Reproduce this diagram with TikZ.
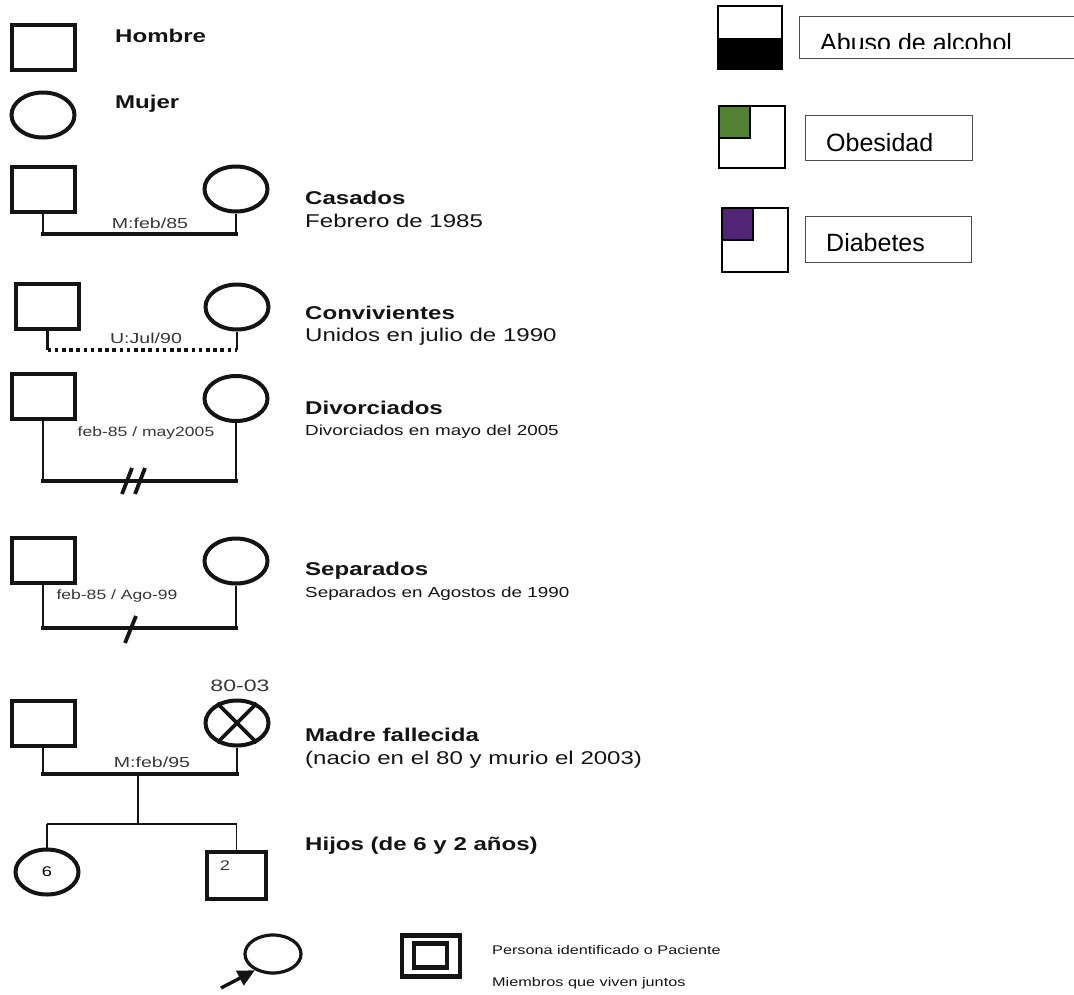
\documentclass[tikz,border=0pt]{standalone}
\usepackage{fontspec}
\setmainfont{Liberation Sans}
\usetikzlibrary{shapes.geometric,arrows.meta}
\definecolor{obgreen}{HTML}{548235}
\definecolor{dbpurple}{HTML}{512476}
\definecolor{ink}{HTML}{141414}
\newcommand{\sx}[1]{\scalebox{1.3}[1]{#1}}
\newcommand{\bigf}{\fontsize{18.5}{20}\selectfont}
\newcommand{\midf}{\fontsize{14.5}{16}\selectfont}
\newcommand{\smf}{\fontsize{13.5}{15}\selectfont}
\newcommand{\mlf}[1]{{\fontsize{14.5}{16}\selectfont\scalebox{1.35}[1]{#1}}}
\newcommand{\legf}{\fontsize{25}{28}\selectfont}
\tikzset{
  male/.style={draw=ink, line width=4pt, minimum width=63pt, minimum height=45pt, inner sep=0pt},
  female/.style={draw=ink, ellipse, line width=4pt, minimum width=63pt, minimum height=45pt, inner sep=0pt},
  vl/.style={draw=ink, line width=2.4pt},
  hl/.style={draw=ink, line width=3.8pt, line cap=rect},
  thinl/.style={draw=ink, line width=1.7pt},
  lbl/.style={anchor=west, inner sep=0pt, text=ink, align=left},
  onl/.style={inner sep=0pt, text=ink!85},
  legbox/.style={draw=black!70, line width=1pt},
}
\begin{document}
\begin{tikzpicture}[x=1pt,y=-1pt]
\useasboundingbox (0,0) rectangle (1074,994);
\fill[white] (0,0) rectangle (1074,994);

% Hombre / Mujer
\node[male] (hm) at (43,47.5) {};
\node[lbl] (thm) at (115,36) {\bigf\bfseries\sx{Hombre}};
\node[female] (mj) at (43,115) {};
\node[lbl] (tmj) at (115,104) {\bigf\bfseries\sx{Mujer}};

% Casados
\node[male] (m1) at (43,189) {};
\node[female] (f1) at (236,189) {};
\coordinate (a1) at (m1.south |- 0,234);
\coordinate (b1) at (f1.south |- 0,234);
\draw[vl] (m1.south) -- (a1);
\draw[vl] (f1.south) -- (b1);
\draw[hl] (a1) -- (b1);
\node[onl] (l1) at (150,223) {\mlf{M:feb/85}};
\node[lbl] (t1) at (305,198) {\bigf\bfseries\sx{Casados}};
\node[lbl] (s1) at (305,221) {\bigf\sx{Febrero de 1985}};

% Convivientes
\node[male] (m2) at (47.5,306) {};
\node[female] (f2) at (237,307) {};
\coordinate (a2) at (m2.south |- 0,350);
\coordinate (b2) at (f2.south |- 0,350);
\draw[vl] (m2.south) -- (a2);
\draw[vl] (f2.south) -- (b2);
\draw[draw=ink, line width=3.8pt, dash pattern=on 3.6pt off 3.6pt] (a2) -- (b2);
\node[onl] (l2) at (146,338.5) {\mlf{U:Jul/90}};
\node[lbl] (t2) at (305,313) {\bigf\bfseries\sx{Convivientes}};
\node[lbl] (s2) at (305,337) {\bigf\sx{Unidos en julio de 1990}};

% Divorciados
\node[male] (m3) at (43,396.5) {};
\node[female] (f3) at (236,398.5) {};
\coordinate (a3) at (m3.south |- 0,481);
\coordinate (b3) at (f3.south |- 0,481);
\draw[vl] (m3.south) -- (a3);
\draw[vl] (f3.south) -- (b3);
\draw[hl] (a3) -- (b3);
\draw[draw=ink, line width=3.8pt] (122,494) -- (132,468);
\draw[draw=ink, line width=3.8pt] (135,494) -- (145,468);
\node[onl] (l3) at (146,433) {\smf\sx{feb-85 / may2005}};
\node[lbl] (t3) at (305,408) {\bigf\bfseries\sx{Divorciados}};
\node[lbl] (s3) at (305,432) {\midf\sx{Divorciados en mayo del 2005}};

% Separados
\node[male] (m4) at (43,560) {};
\node[female] (f4) at (236,561) {};
\coordinate (a4) at (m4.south |- 0,628);
\coordinate (b4) at (f4.south |- 0,628);
\draw[vl] (m4.south) -- (a4);
\draw[vl] (f4.south) -- (b4);
\draw[hl] (a4) -- (b4);
\draw[draw=ink, line width=3.8pt] (125,643) -- (136,616);
\node[onl] (l4) at (117,596) {\smf\sx{feb-85 / Ago-99}};
\node[lbl] (t4) at (305,571) {\bigf\bfseries\sx{Separados}};
\node[lbl] (s4) at (305,594) {\midf\sx{Separados en Agostos de 1990}};

% Madre fallecida
\node[male] (m5) at (43,723) {};
\node[female] (f5) at (237,723) {};
\draw[draw=ink, line width=3.8pt] (f5.45) -- (f5.225);
\draw[draw=ink, line width=3.8pt] (f5.135) -- (f5.315);
\node[onl] (d5) at (240,686) {\fontsize{16.5}{18}\selectfont\scalebox{1.4}[1]{80-03}};
\coordinate (a5) at (m5.south |- 0,774);
\coordinate (b5) at (f5.south |- 0,774);
\draw[vl] (m5.south) -- (a5);
\draw[vl] (f5.south) -- (b5);
\draw[hl] (a5) -- (b5);
\node[onl] (l5) at (152,762) {\mlf{M:feb/95}};
\node[lbl] (t5) at (305,735) {\bigf\bfseries\sx{Madre fallecida}};
\node[lbl] (s5) at (305,760) {\bigf\sx{(nacio en el 80 y murio el 2003)}};

% Hijos
\node[female, minimum width=63pt, minimum height=45pt] (c1) at (47,872) {\fontsize{14}{16}\selectfont\sx{6}};
\node[male, minimum width=59pt, minimum height=47pt] (c2) at (236.5,875.5) {};
\node[onl] (c2l) at (225,866) {\fontsize{14}{16}\selectfont\sx{2}};
\coordinate (p5) at (138,774);
\coordinate (q5) at (138,824);
\coordinate (h1) at (c1.north |- q5);
\coordinate (h2) at (c2.north |- q5);
\draw[thinl] (p5) -- (q5);
\draw[thinl] (h1) -- (h2);
\draw[thinl] (h1) -- (c1.north);
\draw[thinl] (h2) -- (c2.north);
\node[lbl] (t6) at (305,846) {\bigf\bfseries\sx{Hijos (de 6 y 2 años)}};

% Paciente / miembros
\node[draw=ink, ellipse, line width=3.2pt, minimum width=56pt, minimum height=38pt, inner sep=0pt] (pc) at (273,954) {};
\coordinate (tail) at (221,988);
\draw[draw=ink, line width=3.4pt, -{Triangle[length=17pt,width=16pt]}] (tail) -- (pc.222);
\node[draw=ink, line width=4.2pt, minimum width=58pt, minimum height=41pt, inner sep=0pt] (dq) at (431,956) {};
\node[draw=ink, line width=4.2pt, minimum width=33pt, minimum height=24pt, inner sep=0pt] (dqi) at (430.5,955.5) {};
\node[lbl] (t7) at (492,950) {\fontsize{12.5}{14}\selectfont\sx{Persona identificado o Paciente}};
\node[lbl] (t8) at (492,983) {\fontsize{12.5}{14}\selectfont\sx{Miembros que viven juntos}};

% Right legend
\fill[black] (717,38) rectangle (783,70);
\draw[line width=2pt] (718,6) rectangle (782,69);
\draw[legbox] (799,16) rectangle (1080,58);
\begin{scope}
\clip (799,16) rectangle (1080,48.5);
\node[anchor=base west, inner sep=0pt] (ab) at (820,51) {\legf Abuso de alcohol};
\end{scope}

\fill[obgreen] (719,106) rectangle (750,138);
\draw[line width=2pt] (719,106) rectangle (750,138);
\draw[line width=2pt] (719,106) rectangle (785,168);
\draw[legbox] (805,115) rectangle (972,160);
\node[anchor=west, inner sep=0pt] (ob) at (826,142.5) {\legf Obesidad};

\fill[dbpurple] (722,208) rectangle (753,240);
\draw[line width=2pt] (722,208) rectangle (753,240);
\draw[line width=2pt] (722,208) rectangle (788,272);
\draw[legbox] (805,216) rectangle (971,262);
\node[anchor=west, inner sep=0pt] (db) at (826,243) {\legf Diabetes};
\end{tikzpicture}
\end{document}
